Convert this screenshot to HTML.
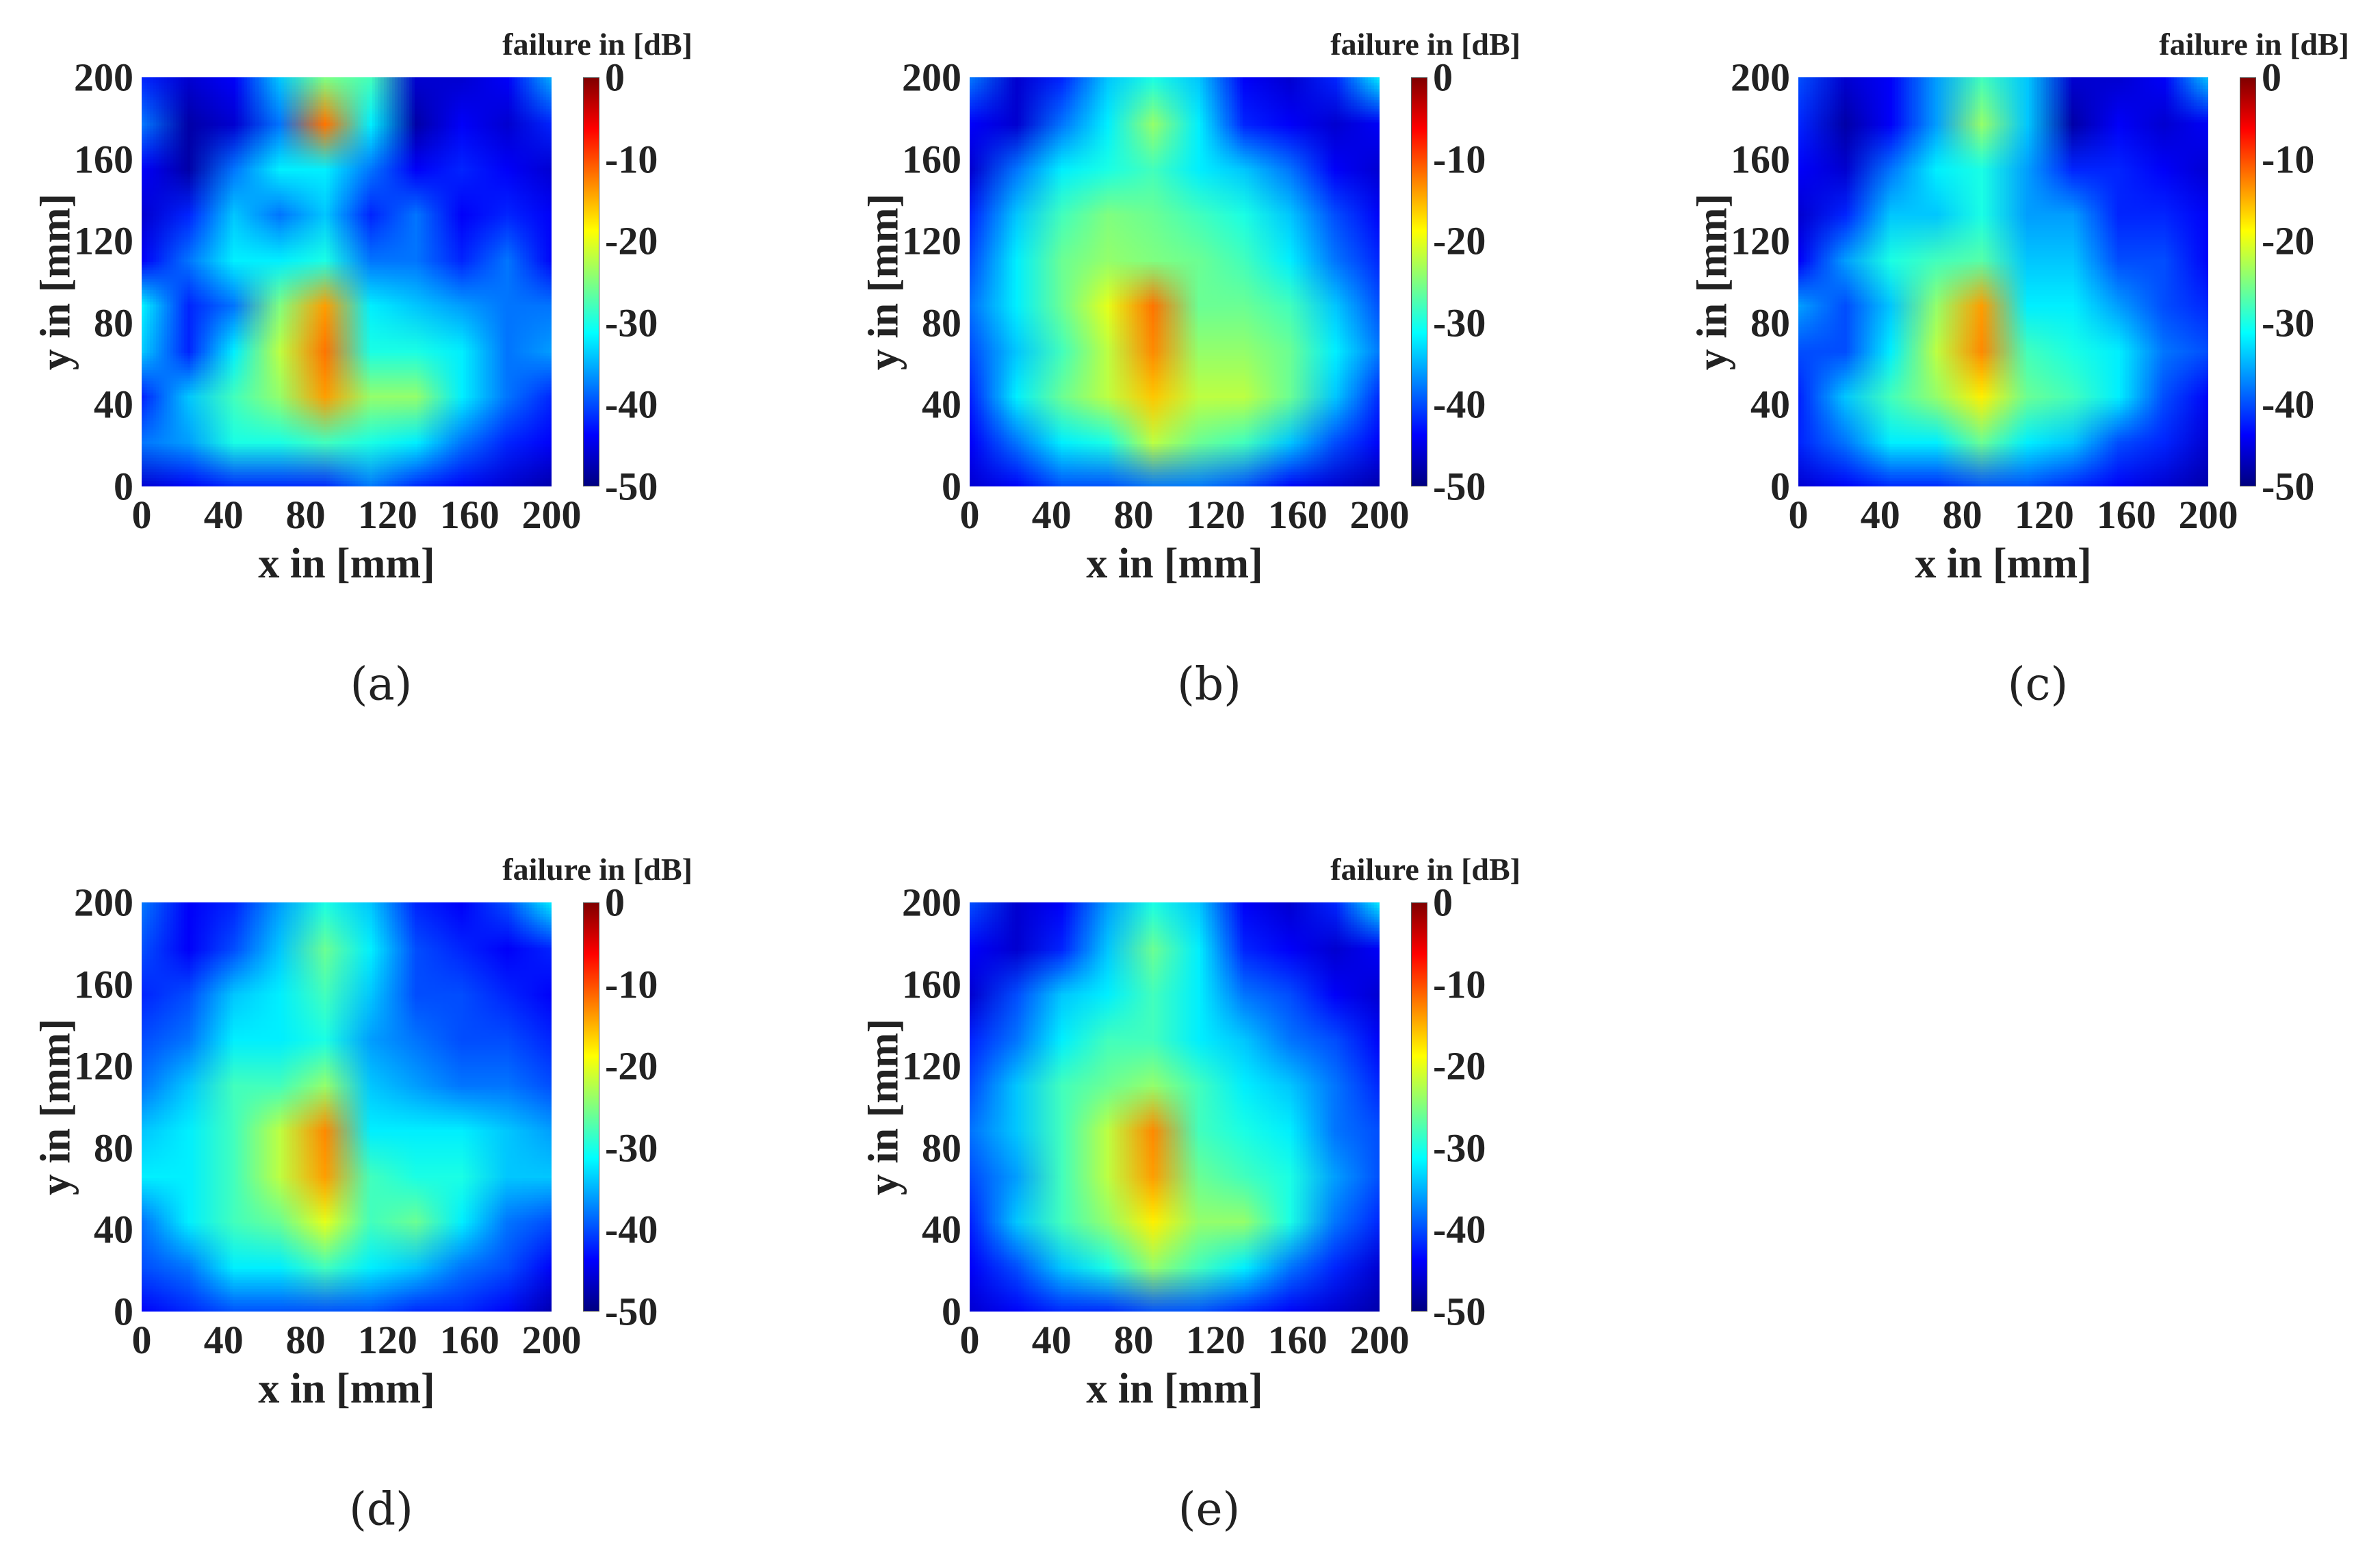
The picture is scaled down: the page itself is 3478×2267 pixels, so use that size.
<!DOCTYPE html>
<html><head><meta charset="utf-8">
<style>
body{margin:0;background:#fff;}
#root{position:relative;width:3478px;height:2267px;background:#fff;overflow:hidden;font-family:"Liberation Serif",serif;color:#222;}
.t{position:absolute;font-weight:bold;white-space:nowrap;}
.tick{font-size:58px;}
.ttl{font-size:62px;}
.cbt{font-size:46px;}
.sub{position:absolute;font-size:66px;white-space:nowrap;transform:translate(-50%,-50%);font-family:"DejaVu Serif","Liberation Serif",serif;}
canvas{position:absolute;}
.cb{position:absolute;border:1px solid #555;box-sizing:border-box;}
</style></head>
<body><div id="root"></div>
<script>
// Data: coarse dB grids (rows from y=200 top to y=0 bottom, columns x=0..200)
const xTicks=[0,40,80,120,160,200];
const yTicks=[0,40,80,120,160,200];
const cbTicks=[0,-10,-20,-30,-40,-50];
const panelLabels=["(a)","(b)","(c)","(d)","(e)"];
const gridA=[
[-42,-46,-44,-34,-25,-28,-46,-46,-44,-35],
[-38,-48,-46,-38,-12,-32,-48,-44,-46,-42],
[-44,-48,-38,-32,-32,-38,-44,-42,-44,-46],
[-46,-42,-34,-38,-34,-42,-38,-44,-42,-44],
[-44,-38,-32,-32,-30,-38,-38,-42,-38,-44],
[-32,-42,-38,-25,-14,-32,-34,-36,-38,-38],
[-34,-42,-32,-22,-12,-30,-30,-32,-38,-36],
[-42,-34,-28,-24,-14,-24,-24,-32,-38,-42],
[-38,-36,-30,-30,-28,-30,-32,-38,-42,-44],
[-46,-44,-42,-42,-42,-38,-42,-44,-46,-48]];
const gridB=[
[-38,-46,-42,-34,-30,-34,-44,-46,-42,-32],
[-44,-46,-38,-32,-24,-32,-42,-44,-46,-44],
[-46,-38,-32,-30,-28,-32,-34,-38,-44,-46],
[-42,-34,-28,-25,-26,-28,-30,-34,-40,-44],
[-40,-32,-26,-24,-25,-26,-28,-32,-38,-42],
[-38,-32,-26,-20,-12,-26,-26,-28,-34,-40],
[-40,-34,-28,-22,-13,-24,-24,-26,-32,-38],
[-42,-32,-26,-22,-16,-22,-22,-26,-34,-42],
[-44,-38,-32,-30,-22,-26,-28,-34,-40,-44],
[-46,-44,-40,-40,-38,-38,-40,-44,-46,-48]];
const gridC=[
[-40,-46,-44,-36,-28,-34,-46,-46,-44,-34],
[-42,-48,-44,-36,-24,-34,-48,-44,-46,-44],
[-44,-46,-38,-32,-30,-36,-42,-42,-44,-46],
[-46,-42,-34,-34,-30,-36,-36,-42,-42,-44],
[-44,-36,-30,-28,-27,-34,-34,-40,-40,-44],
[-36,-40,-34,-24,-14,-32,-32,-36,-40,-42],
[-40,-40,-32,-22,-13,-28,-30,-32,-38,-40],
[-42,-34,-28,-24,-18,-26,-28,-32,-40,-44],
[-42,-38,-32,-32,-26,-32,-34,-40,-42,-46],
[-46,-44,-42,-42,-40,-40,-42,-44,-46,-48]];
const gridD=[
[-38,-44,-42,-36,-30,-34,-42,-44,-40,-32],
[-40,-44,-40,-34,-26,-32,-40,-42,-44,-42],
[-42,-40,-34,-32,-28,-34,-40,-40,-42,-44],
[-40,-38,-32,-32,-30,-36,-38,-40,-40,-42],
[-38,-34,-28,-28,-24,-34,-36,-38,-38,-40],
[-34,-32,-28,-22,-13,-32,-32,-32,-34,-36],
[-32,-32,-28,-22,-14,-28,-30,-30,-34,-34],
[-38,-32,-28,-26,-20,-28,-26,-32,-38,-40],
[-40,-38,-32,-32,-28,-32,-34,-38,-40,-44],
[-44,-42,-40,-40,-40,-40,-42,-42,-44,-48]];
const gridE=[
[-40,-46,-44,-36,-30,-34,-44,-46,-42,-32],
[-44,-46,-42,-34,-26,-32,-42,-44,-46,-44],
[-46,-40,-34,-32,-28,-32,-38,-40,-44,-46],
[-42,-38,-32,-28,-28,-32,-34,-38,-40,-44],
[-40,-34,-28,-26,-24,-28,-32,-34,-38,-42],
[-38,-34,-28,-22,-13,-28,-30,-32,-38,-40],
[-40,-36,-28,-22,-14,-26,-28,-30,-36,-40],
[-42,-34,-28,-24,-18,-24,-24,-30,-38,-42],
[-44,-40,-34,-30,-24,-28,-32,-38,-42,-46],
[-46,-44,-42,-42,-40,-40,-42,-44,-46,-48]];
const grids=[gridA,gridB,gridC,gridD,gridE];

const root=document.getElementById('root');
const colX=[207,1417,2628], rowY=[113,1319];
const PW=599, PH=598;
function jet(v){
  const r=Math.min(Math.max(1.5-Math.abs(4*v-3),0),1);
  const g=Math.min(Math.max(1.5-Math.abs(4*v-2),0),1);
  const b=Math.min(Math.max(1.5-Math.abs(4*v-1),0),1);
  return [r*255,g*255,b*255];
}
function cval(db){return (db+50)/50;}
function add(tag,cls,name,css,text){
  const e=document.createElement(tag);
  if(cls)e.className=cls;
  
  
  Object.assign(e.style,css);
  if(text!==undefined)e.textContent=text;
  root.appendChild(e);return e;
}
grids.forEach((g,i)=>{
  const L=colX[i%3], T=rowY[Math.floor(i/3)];
  const xs=v=>L+v/200*PW, ys=v=>T+PH-v/200*PH;
  const small=document.createElement('canvas');
  const n=g.length,m=g[0].length;
  small.width=m;small.height=n;
  const sc=small.getContext('2d');const id=sc.createImageData(m,n);
  for(let r=0;r<n;r++)for(let c=0;c<m;c++){
    const col=jet(cval(g[r][c]));const k=(r*m+c)*4;
    id.data[k]=col[0];id.data[k+1]=col[1];id.data[k+2]=col[2];id.data[k+3]=255;}
  sc.putImageData(id,0,0);
  const cv=document.createElement('canvas');
  
  
  cv.width=PW;cv.height=PH;cv.style.left=L+'px';cv.style.top=T+'px';
  const cx=cv.getContext('2d');cx.imageSmoothingEnabled=true;
  cx.drawImage(small,0.5,0.5,m-1,n-1,0,0,PW,PH);
  root.appendChild(cv);
  xTicks.forEach(v=>{
    add('div','t tick','x-tick-label',{left:xs(v)+'px',top:(T+PH+8)+'px',transform:'translateX(-50%)'},String(v));
  });
  yTicks.forEach(v=>{
    add('div','t tick','y-tick-label',{right:(3478-L+12)+'px',top:ys(v)+'px',transform:'translateY(-50%)'},String(v));
  });
  add('div','t ttl','x-axis-title',{left:(L+PW/2)+'px',top:(T+PH+78)+'px',transform:'translateX(-50%)'},'x in [mm]');
  add('div','t ttl','y-axis-title',{left:(L-125)+'px',top:(T+PH/2)+'px',transform:'translate(-50%,-50%) rotate(-90deg)'},'y in [mm]');
  const cbL=L+645, cbW=24;
  const cb=add('div','cb','colorbar',{left:cbL+'px',top:T+'px',width:cbW+'px',height:PH+'px'});
  const stops=[];for(let s=0;s<=8;s++){const c=jet(1-s/8);stops.push(`rgb(${c.map(Math.round).join(',')}) ${s/8*100}%`);}
  cb.style.background='linear-gradient(to bottom,'+stops.join(',')+')';
  const cbs=v=>T+(-v)/50*PH;
  cbTicks.forEach(v=>{
    add('div','t tick','colorbar-tick-label',{left:(cbL+cbW+8)+'px',top:cbs(v)+'px',transform:'translateY(-50%)'},String(v));
  });
  add('div','t cbt','colorbar-title',{right:(3478-(L+805))+'px',top:(T-75)+'px'},'failure in [dB]');
  add('div','sub','panel-label',{left:(L+350)+'px',top:(T+887)+'px'},panelLabels[i]);
});
</script>
</body></html>
